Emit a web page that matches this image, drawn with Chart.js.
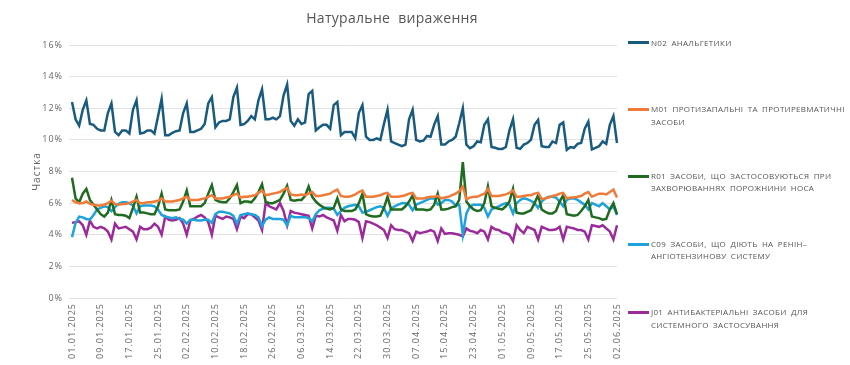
<!DOCTYPE html>
<html><head><meta charset="utf-8">
<script src="https://cdn.jsdelivr.net/npm/chart.js@4.4.1/dist/chart.umd.min.js"></script>
<style>
html,body{margin:0;padding:0;background:#fff;}
#wrap{position:relative;width:850px;height:365px;overflow:hidden;}
#title{position:absolute;left:0;width:784px;top:8px;text-align:center;font-family:"Open Sans";font-size:14px;line-height:19px;color:#555;letter-spacing:0.3px;word-spacing:4px;}
#legend{position:absolute;left:628px;top:0;width:222px;height:365px;}
.sw{position:absolute;left:0;width:21px;height:3px;}
.tx{position:absolute;left:23px;font-family:"Open Sans";font-size:8px;line-height:12.4px;color:#555;letter-spacing:0.3px;word-spacing:2px;white-space:nowrap;}
canvas{position:absolute;left:0;top:0;}
</style></head>
<body>
<div id="wrap">
<canvas id="c" width="850" height="365"></canvas>
<div id="title">Натуральне вираження</div>
<div id="legend"></div>
</div>
<script>
const categories = [
'01.01.2025','02.01.2025','03.01.2025','04.01.2025','05.01.2025','06.01.2025','07.01.2025','08.01.2025','09.01.2025','10.01.2025',
'11.01.2025','12.01.2025','13.01.2025','14.01.2025','15.01.2025','16.01.2025','17.01.2025','18.01.2025','19.01.2025','20.01.2025',
'21.01.2025','22.01.2025','23.01.2025','24.01.2025','25.01.2025','26.01.2025','27.01.2025','28.01.2025','29.01.2025','30.01.2025','31.01.2025',
'01.02.2025','02.02.2025','03.02.2025','04.02.2025','05.02.2025','06.02.2025','07.02.2025','08.02.2025','09.02.2025','10.02.2025',
'11.02.2025','12.02.2025','13.02.2025','14.02.2025','15.02.2025','16.02.2025','17.02.2025','18.02.2025','19.02.2025','20.02.2025',
'21.02.2025','22.02.2025','23.02.2025','24.02.2025','25.02.2025','26.02.2025','27.02.2025','28.02.2025',
'01.03.2025','02.03.2025','03.03.2025','04.03.2025','05.03.2025','06.03.2025','07.03.2025','08.03.2025','09.03.2025','10.03.2025',
'11.03.2025','12.03.2025','13.03.2025','14.03.2025','15.03.2025','16.03.2025','17.03.2025','18.03.2025','19.03.2025','20.03.2025',
'21.03.2025','22.03.2025','23.03.2025','24.03.2025','25.03.2025','26.03.2025','27.03.2025','28.03.2025','29.03.2025','30.03.2025','31.03.2025',
'01.04.2025','02.04.2025','03.04.2025','04.04.2025','05.04.2025','06.04.2025','07.04.2025','08.04.2025','09.04.2025','10.04.2025',
'11.04.2025','12.04.2025','13.04.2025','14.04.2025','15.04.2025','16.04.2025','17.04.2025','18.04.2025','19.04.2025','20.04.2025',
'21.04.2025','22.04.2025','23.04.2025','24.04.2025','25.04.2025','26.04.2025','27.04.2025','28.04.2025','29.04.2025','30.04.2025',
'01.05.2025','02.05.2025','03.05.2025','04.05.2025','05.05.2025','06.05.2025','07.05.2025','08.05.2025','09.05.2025','10.05.2025',
'11.05.2025','12.05.2025','13.05.2025','14.05.2025','15.05.2025','16.05.2025','17.05.2025','18.05.2025','19.05.2025','20.05.2025',
'21.05.2025','22.05.2025','23.05.2025','24.05.2025','25.05.2025','26.05.2025','27.05.2025','28.05.2025','29.05.2025','30.05.2025','31.05.2025',
'01.06.2025','02.06.2025'];

const tickLabels = ['01.01.2025','09.01.2025','17.01.2025','25.01.2025','02.02.2025','10.02.2025','18.02.2025','26.02.2025',
'06.03.2025','14.03.2025','22.03.2025','30.03.2025','07.04.2025','15.04.2025','23.04.2025','01.05.2025','09.05.2025',
'17.05.2025','25.05.2025','02.06.2025'];

const yTicks = [0,2,4,6,8,10,12,14,16];

const seriesNames = ['N02 АНАЛЬГЕТИКИ','M01 ПРОТИЗАПАЛЬНІ ТА ПРОТИРЕВМАТИЧНІ ЗАСОБИ','R01 ЗАСОБИ, ЩО ЗАСТОСОВУЮТЬСЯ ПРИ ЗАХВОРЮВАННЯХ ПОРОЖНИНИ НОСА','C09 ЗАСОБИ, ЩО ДІЮТЬ НА РЕНІН-АНГІОТЕНЗИНОВУ СИСТЕМУ','J01 АНТИБАКТЕРІАЛЬНІ ЗАСОБИ ДЛЯ СИСТЕМНОГО ЗАСТОСУВАННЯ'];
const legendLines = [
 ['N02 АНАЛЬГЕТИКИ'],
 ['M01 ПРОТИЗАПАЛЬНІ ТА ПРОТИРЕВМАТИЧНІ','ЗАСОБИ'],
 ['R01 ЗАСОБИ, ЩО ЗАСТОСОВУЮТЬСЯ ПРИ','ЗАХВОРЮВАННЯХ ПОРОЖНИНИ НОСА'],
 ['C09 ЗАСОБИ, ЩО ДІЮТЬ НА РЕНІН–','АНГІОТЕНЗИНОВУ СИСТЕМУ'],
 ['J01 АНТИБАКТЕРІАЛЬНІ ЗАСОБИ ДЛЯ','СИСТЕМНОГО ЗАСТОСУВАННЯ']];
const seriesColors = ['#185b7e','#f07a38','#1f6b1f','#1ea2dc','#9b2a9b'];

const N02 = [12.4,11.3,10.9,11.9,12.5,
11.0,10.95,10.7,10.6,10.6,11.7,12.3,
10.5,10.3,10.6,10.6,10.4,11.9,12.5,
10.4,10.45,10.6,10.6,10.4,11.5,12.6,
10.3,10.3,10.45,10.55,10.6,11.7,12.3,
10.5,10.5,10.6,10.7,11.0,12.3,12.7,
10.8,11.1,11.2,11.2,11.3,12.7,13.3,
10.95,11.0,11.2,11.5,11.3,12.5,13.2,
11.3,11.3,11.4,11.3,11.5,12.8,13.5,
11.2,10.9,11.3,11.0,11.1,12.9,13.1,
10.6,10.8,10.95,10.95,10.7,12.2,12.4,
10.3,10.5,10.5,10.5,10.1,11.7,12.2,
10.2,10.0,10.0,10.1,10.0,11.0,11.9,
9.9,9.8,9.7,9.6,9.7,11.3,11.9,
10.0,9.9,9.95,10.25,10.2,10.95,11.5,
9.7,9.7,9.9,10.0,10.2,11.05,12.0,
9.7,9.47,9.6,9.9,9.85,10.95,11.3,
9.55,9.5,9.43,9.43,9.55,10.6,11.3,
9.5,9.43,9.7,9.8,10.0,10.95,11.26,
9.6,9.55,9.55,9.9,9.8,10.95,11.1,
9.37,9.55,9.5,9.75,9.8,10.7,11.15,
9.4,9.5,9.6,9.9,9.75,10.95,11.5,
9.8];

const M01 = [6.2,6.05,6.0,6.0,6.1,
5.95,5.9,5.85,5.85,5.9,6.0,6.15,
5.95,5.9,5.95,5.95,6.0,6.1,6.2,
6.0,6.0,6.05,6.05,6.1,6.15,6.3,
6.1,6.1,6.1,6.15,6.2,6.3,6.4,
6.2,6.2,6.2,6.25,6.3,6.4,6.5,
6.3,6.3,6.3,6.35,6.4,6.5,6.6,
6.35,6.4,6.4,6.45,6.5,6.65,6.8,
6.5,6.55,6.6,6.65,6.7,6.85,6.95,
6.55,6.5,6.5,6.55,6.5,6.6,6.7,
6.45,6.45,6.5,6.55,6.6,6.75,6.85,
6.45,6.4,6.4,6.45,6.55,6.7,6.8,
6.4,6.4,6.4,6.45,6.5,6.6,6.65,
6.4,6.4,6.4,6.45,6.5,6.6,6.65,
6.3,6.3,6.3,6.35,6.4,6.4,6.45,
6.3,6.35,6.4,6.5,6.6,6.75,7.05,
6.25,6.35,6.4,6.4,6.5,6.6,6.9,
6.45,6.45,6.45,6.5,6.55,6.65,6.8,
6.4,6.4,6.45,6.5,6.5,6.6,6.65,
6.25,6.3,6.35,6.45,6.5,6.6,6.65,
6.3,6.35,6.35,6.4,6.45,6.6,6.7,
6.4,6.5,6.6,6.6,6.55,6.7,6.85,
6.35];

const R01 = [7.6,6.3,6.05,6.6,6.9,
6.2,5.9,5.6,5.3,5.15,5.4,6.2,
5.3,5.25,5.25,5.2,5.05,5.7,6.4,
5.4,5.4,5.35,5.3,5.3,5.8,6.6,
5.6,5.55,5.55,5.55,5.6,6.1,6.8,
5.8,5.8,5.8,5.8,6.0,6.6,7.15,
6.2,6.1,6.05,6.05,6.3,6.7,7.15,
6.0,6.1,6.1,6.05,6.3,6.7,7.2,
6.1,6.0,6.0,6.1,6.2,6.6,7.1,
6.2,6.15,6.2,6.2,6.45,7.05,6.4,
6.1,5.9,5.75,5.65,5.6,5.7,6.3,
5.6,5.5,5.5,5.5,5.6,6.0,6.6,
5.3,5.2,5.15,5.15,5.2,5.7,6.4,
5.6,5.6,5.6,5.6,5.8,6.1,6.5,
5.6,5.6,5.6,5.55,5.6,5.9,6.6,
5.6,5.6,5.65,5.75,5.8,6.2,8.6,
6.1,5.8,5.6,5.5,5.55,6.0,7.05,
5.8,5.7,5.65,5.6,5.8,6.1,6.9,
5.4,5.35,5.35,5.45,5.55,6.0,6.5,
5.6,5.45,5.35,5.35,5.5,6.1,6.5,
5.3,5.25,5.2,5.25,5.5,5.8,6.2,
5.15,5.1,5.05,4.95,5.0,5.6,6.0,
5.3];

const C09 = [3.85,4.75,5.15,5.1,5.0,
4.95,5.25,5.6,5.7,5.8,5.75,5.5,
5.75,5.95,6.05,6.05,6.0,5.85,5.35,
5.8,5.85,5.85,5.85,5.8,5.6,5.25,
5.15,5.1,5.05,5.1,5.0,4.95,4.7,
4.95,4.95,4.9,4.9,4.95,4.95,4.75,
5.3,5.45,5.45,5.4,5.35,5.2,4.7,
5.25,5.3,5.35,5.3,5.25,5.1,4.55,
4.95,5.1,5.0,5.0,5.0,4.95,4.6,
5.2,5.1,5.1,5.1,5.1,5.05,4.85,
5.3,5.55,5.65,5.7,5.7,5.65,5.25,
5.5,5.7,5.8,5.85,5.9,5.8,5.4,
5.45,5.55,5.65,5.75,5.8,5.7,5.2,
5.65,5.8,5.9,6.0,6.0,5.9,5.55,
5.9,6.0,6.1,6.2,6.3,6.3,5.9,
6.0,6.2,6.2,6.1,5.85,5.9,4.0,
5.35,5.8,5.9,5.9,5.9,5.7,5.15,
5.6,5.7,5.8,5.9,6.0,5.9,5.35,
6.0,6.2,6.3,6.25,6.15,6.0,5.7,
6.1,6.3,6.4,6.4,6.35,6.1,5.8,
6.2,6.3,6.3,6.2,6.05,5.9,5.6,
6.0,5.9,5.8,6.0,5.8,5.6,5.8,
5.25];

const J01 = [4.75,4.8,4.85,4.6,4.0,
4.9,4.5,4.4,4.5,4.4,4.2,3.7,
4.7,4.4,4.45,4.5,4.35,4.2,3.7,
4.5,4.35,4.35,4.45,4.7,4.5,4.0,
5.15,4.95,4.9,4.95,5.05,4.7,4.0,
4.9,5.0,5.15,5.25,5.1,4.8,4.0,
5.2,5.1,5.0,5.15,5.1,5.0,4.35,
5.15,5.05,5.3,5.3,5.1,4.9,4.3,
6.0,5.8,5.7,5.6,6.0,5.5,4.6,
5.5,5.4,5.35,5.3,5.25,5.2,4.4,
5.2,5.15,5.25,5.1,5.0,4.9,4.25,
5.25,4.85,5.0,5.0,4.95,4.8,3.8,
4.85,4.8,4.7,4.6,4.45,4.3,3.8,
4.6,4.35,4.3,4.3,4.2,4.1,3.6,
4.2,4.1,4.15,4.2,4.3,4.2,3.6,
4.4,4.05,4.1,4.1,4.05,4.0,3.9,
4.4,4.25,4.2,4.1,4.3,4.2,3.7,
4.5,4.35,4.3,4.15,4.1,4.0,3.6,
4.6,4.3,4.1,4.5,4.4,4.3,3.7,
4.5,4.4,4.3,4.3,4.35,4.5,3.7,
4.5,4.45,4.4,4.3,4.3,4.2,3.7,
4.6,4.55,4.5,4.6,4.4,4.2,3.7,
4.6];

const seriesValues = [N02, M01, R01, C09, J01];

// HTML legend
const legendTops = [42.7, 109.5, 176.2, 244, 312.5];
const lg = document.getElementById('legend');
legendLines.forEach((lines, i) => {
  const sw = document.createElement('div');
  sw.className = 'sw';
  sw.style.background = seriesColors[i];
  sw.style.top = (legendTops[i] - 1.5) + 'px';
  lg.appendChild(sw);
  const tx = document.createElement('div');
  tx.className = 'tx';
  tx.style.top = (legendTops[i] - 6.2) + 'px';
  tx.innerHTML = lines.join('<br>');
  lg.appendChild(tx);
});

const spacing = {
  id: 'spacing',
  beforeLayout(c) { c.ctx.letterSpacing = '1px'; },
  beforeDraw(c) { c.ctx.letterSpacing = '1px'; }
};

new Chart(document.getElementById('c'), {
  type: 'line',
  data: {
    labels: categories,
    datasets: seriesValues.map((d, i) => ({
      label: seriesNames[i],
      data: d,
      borderColor: seriesColors[i],
      backgroundColor: seriesColors[i],
      borderWidth: 2.5,
      pointRadius: 0,
      tension: 0,
      fill: false
    }))
  },
  options: {
    responsive: false,
    animation: false,
    devicePixelRatio: 1,
    layout: { padding: { left: 0, right: 233, top: 45, bottom: 0 } },
    plugins: { legend: { display: false }, title: { display: false }, tooltip: { enabled: false } },
    scales: {
      x: {
        grid: { display: false, drawTicks: false },
        border: { display: false },
        ticks: {
          autoSkip: false, maxRotation: 90, minRotation: 90, padding: 5,
          color: '#666', font: { family: 'Open Sans', size: 9 },
          callback: (v, i) => tickLabels.includes(categories[i]) ? categories[i] : ''
        },
        afterFit: s => { s.height = 67; }
      },
      y: {
        min: 0, max: 16,
        afterBuildTicks: s => { s.ticks = yTicks.map(v => ({ value: v })); },
        ticks: { callback: v => v + '%', padding: 6, color: '#666', font: { family: 'Open Sans', size: 9 } },
        grid: { color: '#e2e2e2', tickLength: 3, lineWidth: 1 },
        border: { display: false },
        title: { display: true, text: 'Частка', color: '#666', font: { family: 'Open Sans', size: 10 }, padding: { top: 31, bottom: 0 } },
        afterFit: s => { s.width = 72; }
      }
    }
  },
  plugins: [spacing]
});
</script>
</body></html>
